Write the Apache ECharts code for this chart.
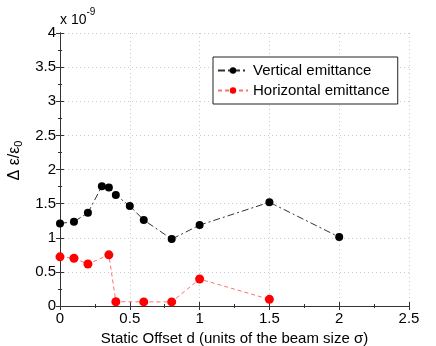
<!DOCTYPE html>
<html>
<head>
<meta charset="utf-8">
<script src="https://cdn.jsdelivr.net/npm/echarts@6/dist/echarts.min.js"></script>
<style>
  html, body { margin: 0; padding: 0; background: #fff; }
  #chart { width: 436px; height: 346px; }
</style>
</head>
<body>
<div id="chart"></div>
<script>
// values in units of 1e-9
const offsetV = [0, 0.1, 0.2, 0.3, 0.35, 0.4, 0.5, 0.6, 0.8, 1.0, 1.5, 2.0]
const vertical = [1.21, 1.235, 1.365, 1.755, 1.735, 1.625, 1.465, 1.26, 0.98, 1.185, 1.52, 1.01]
const offsetH = [0, 0.1, 0.2, 0.35, 0.4, 0.6, 0.8, 1.0, 1.5]
const horizontal = [0.72, 0.7, 0.615, 0.75, 0.063, 0.06, 0.06, 0.395, 0.098]

const font = 'Liberation Sans, Arial, sans-serif'
const chart = echarts.init(document.getElementById('chart'))

const tickAxis = (extra) => Object.assign({
  type: 'value',
  axisLine: { show: true, lineStyle: { color: '#333', width: 1 } },
  axisTick: { show: true, inside: true, length: 4, lineStyle: { color: '#333' } },
  minorTick: { show: true, splitNumber: 2, length: 2, lineStyle: { color: '#333' } }
}, extra)

chart.setOption({
  animation: false,
  textStyle: { fontFamily: font },
  grid: { left: 60, right: 27, top: 33, bottom: 40, containLabel: false, outerBoundsMode: 'none' },
  graphic: [{
    type: 'text', left: 60, top: 7,
    style: {
      text: '{a|x 10}{b|-9}',
      rich: {
        a: { fontSize: 14, fontFamily: font, fill: '#000', padding: [6, 0, 0, 0] },
        b: { fontSize: 10, fontFamily: font, fill: '#000', verticalAlign: 'top' }
      }
    }
  }],
  legend: {
    orient: 'vertical', left: 213, top: 57,
    width: 170,
    padding: [6, 8, 6, 4],
    itemGap: 5, itemWidth: 30, itemHeight: 8,
    backgroundColor: '#fff', borderColor: '#222', borderWidth: 1,
    textStyle: { fontSize: 15, color: '#000', fontFamily: font },
    data: ['Vertical emittance', 'Horizontal emittance']
  },
  xAxis: [
    tickAxis({
      min: 0, max: 2.5, interval: 0.5,
      name: 'Static Offset d (units of the beam size σ)',
      nameLocation: 'middle', nameGap: 24,
      nameTextStyle: { fontSize: 15, color: '#000' },
      axisLabel: { fontSize: 15, color: '#000', margin: 5 },
      splitLine: { show: true, lineStyle: { color: '#ccc', type: [1, 3] } }
    }),
    tickAxis({
      min: 0, max: 2.5, interval: 0.5, position: 'top',
      axisLabel: { show: false }, splitLine: { show: false }
    })
  ],
  yAxis: [
    tickAxis({
      min: 0, max: 4, interval: 0.5,
      name: '{a|Δ ε/ε}{s|0}',
      nameLocation: 'middle', nameGap: 34, nameRotate: 90,
      nameTextStyle: {
        color: '#000', padding: [0, 0, 0, 18],
        rich: {
          a: { fontSize: 16, fontFamily: font, color: '#000' },
          s: { fontSize: 11, fontFamily: font, color: '#000', padding: [8, 0, 0, 0] }
        }
      },
      axisLabel: { fontSize: 15, color: '#000', margin: 4 },
      splitLine: { show: true, lineStyle: { color: '#ccc', type: [1, 3] } }
    }),
    tickAxis({
      min: 0, max: 4, interval: 0.5, position: 'right',
      axisLabel: { show: false }, splitLine: { show: false }
    })
  ],
  series: [
    {
      name: 'Vertical emittance', type: 'line',
      data: offsetV.map((x, i) => [x, vertical[i]]),
      symbol: 'circle', symbolSize: 8,
      itemStyle: { color: '#000' },
      lineStyle: { color: '#333', width: 1, type: [7, 3, 2, 3] }
    },
    {
      name: 'Horizontal emittance', type: 'line',
      data: offsetH.map((x, i) => [x, horizontal[i]]),
      symbol: 'circle', symbolSize: 9,
      itemStyle: { color: '#ff0000' },
      lineStyle: { color: '#ff7070', width: 1, type: [4, 3] }
    }
  ]
})
</script>
</body>
</html>
